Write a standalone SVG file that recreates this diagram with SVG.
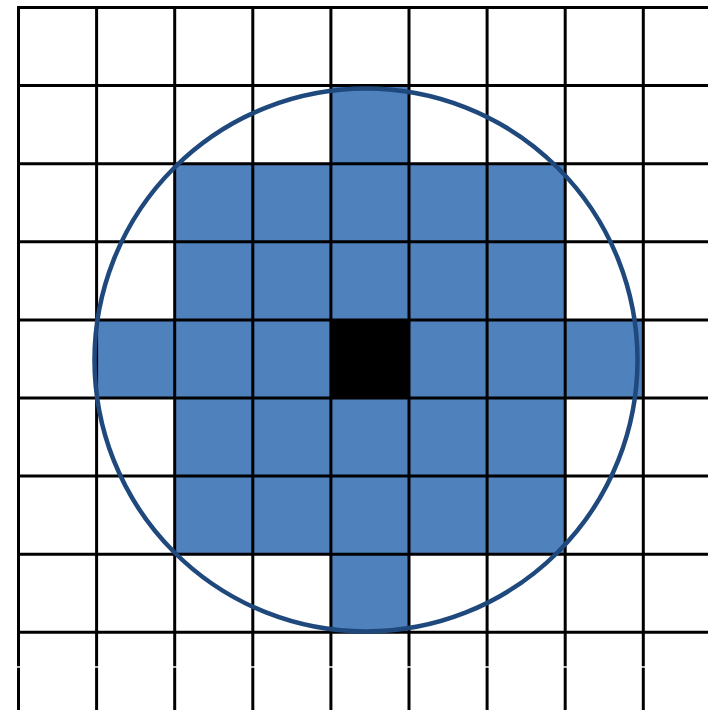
<svg xmlns="http://www.w3.org/2000/svg" width="708" height="710" viewBox="0 0 708 710">
<style>
.b{fill:#4F81BD}
.k{fill:#000}
.g line{stroke:#000;stroke-width:3}
.c{fill:none;stroke:#1F497D;stroke-width:4.5}
</style>
<rect x="0" y="0" width="708" height="710" fill="#fff"/>
<g id="cells">
<rect class="b" x="330.8" y="85.6" width="78.1" height="78.1"/>
<rect class="b" x="174.7" y="163.7" width="390.5" height="156.2"/>
<rect class="b" x="96.6" y="319.9" width="546.7" height="78.1"/>
<rect class="b" x="174.7" y="398" width="390.5" height="156.2"/>
<rect class="b" x="330.8" y="554.2" width="78.1" height="78.1"/>
<rect class="k" x="330.8" y="319.9" width="78.1" height="78.1"/>
</g>
<g id="grid" class="g">
<line x1="17" y1="7.5" x2="708" y2="7.5"/>
<line x1="17" y1="85.6" x2="708" y2="85.6"/>
<line x1="17" y1="163.7" x2="708" y2="163.7"/>
<line x1="17" y1="241.8" x2="708" y2="241.8"/>
<line x1="17" y1="319.9" x2="708" y2="319.9"/>
<line x1="17" y1="398" x2="708" y2="398"/>
<line x1="17" y1="476.1" x2="708" y2="476.1"/>
<line x1="17" y1="554.2" x2="708" y2="554.2"/>
<line x1="17" y1="632.3" x2="708" y2="632.3"/>
<line x1="18.5" y1="6" x2="18.5" y2="666.3"/>
<line x1="96.6" y1="6" x2="96.6" y2="666.3"/>
<line x1="174.7" y1="6" x2="174.7" y2="666.3"/>
<line x1="252.8" y1="6" x2="252.8" y2="666.3"/>
<line x1="330.9" y1="6" x2="330.9" y2="666.3"/>
<line x1="409" y1="6" x2="409" y2="666.3"/>
<line x1="487.1" y1="6" x2="487.1" y2="666.3"/>
<line x1="565.2" y1="6" x2="565.2" y2="666.3"/>
<line x1="643.3" y1="6" x2="643.3" y2="666.3"/>
<line x1="18.5" y1="667.7" x2="18.5" y2="710"/>
<line x1="96.6" y1="667.7" x2="96.6" y2="710"/>
<line x1="174.7" y1="667.7" x2="174.7" y2="710"/>
<line x1="252.8" y1="667.7" x2="252.8" y2="710"/>
<line x1="330.9" y1="667.7" x2="330.9" y2="710"/>
<line x1="409" y1="667.7" x2="409" y2="710"/>
<line x1="487.1" y1="667.7" x2="487.1" y2="710"/>
<line x1="565.2" y1="667.7" x2="565.2" y2="710"/>
<line x1="643.3" y1="667.7" x2="643.3" y2="710"/>
</g>
<g id="circle">
<circle class="c" cx="366" cy="360" r="271.5"/>
</g>
</svg>
